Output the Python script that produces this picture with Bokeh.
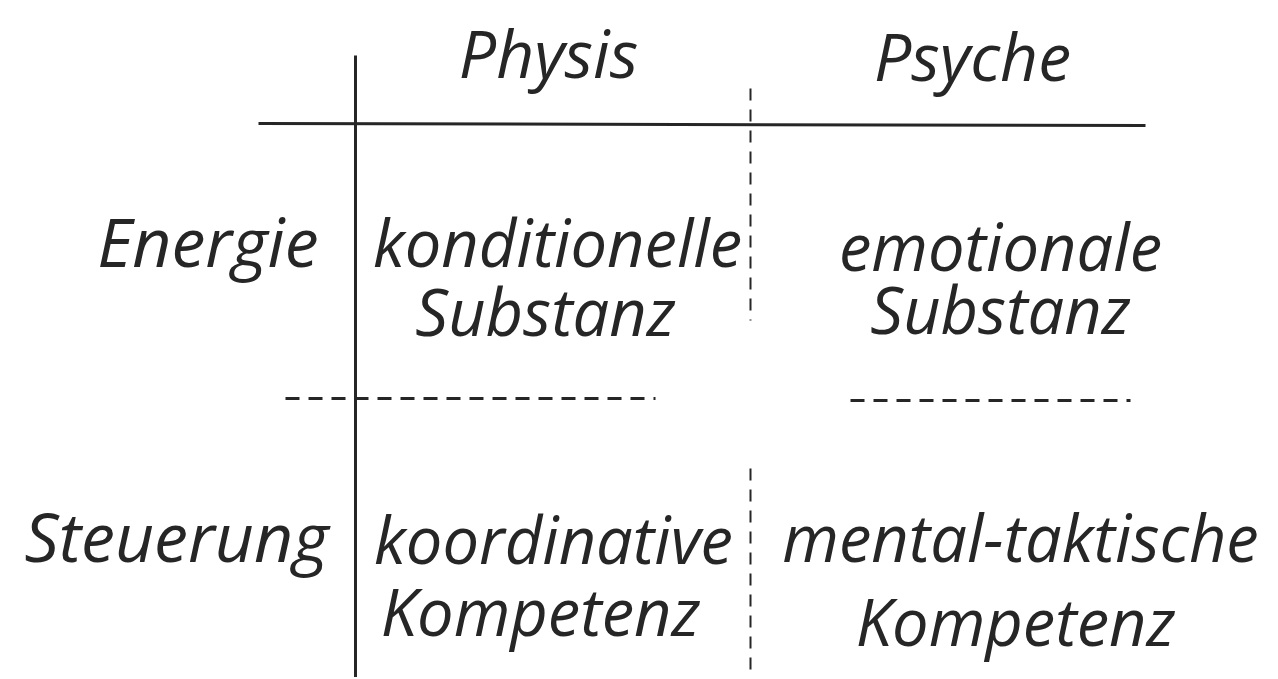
from bokeh.plotting import figure
from bokeh.models import Range1d, ColumnDataSource
from bokeh.core.properties import value
from bokeh.embed import file_html
from bokeh.resources import INLINE

# ---- content ----
col_headers = ["Physis", "Psyche"]
row_headers = ["Energie", "Steuerung"]
cell_line1 = ["konditionelle", "emotionale", "koordinative", "mental-taktische"]
cell_line2 = ["Substanz", "Substanz", "Kompetenz", "Kompetenz"]

# ---- layout (pixel-like coordinates, y downwards; y values are text baselines) ----
col_hdr_x = [548, 972]
col_hdr_base = [79, 82]
row_hdr_x = [318, 328]
row_hdr_base = [268, 563]
cell_x1 = [557, 1000, 553, 1020]
cell_base1 = [268, 272, 565, 563]
cell_x2 = [545, 1000, 540, 1015]
cell_base2 = [337, 335, 637, 647]

HDR_SIZE, ROW_SIZE, CELL_SIZE = 66, 68, 65
BASE_SHIFT = 0.41  # svg baseline compensation (fraction of font size)


def shift(bases, size):
    return [b - BASE_SHIFT * size for b in bases]


FONT = value("Open Sans")
INK = "#262626"

W, H = 1276, 677
p = figure(width=W, height=H, x_range=Range1d(0, W), y_range=Range1d(H, 0),
           output_backend="svg", toolbar_location=None, min_border=0,
           outline_line_color=None, background_fill_color="white")
p.axis.visible = False
p.grid.visible = False

# solid lines
p.segment(x0=[355, 258], y0=[55, 123], x1=[355, 1145], y1=[H, 125],
          line_color=INK, line_width=3)
# dashed vertical
p.segment(x0=[750, 750], y0=[88, 468], x1=[750, 750], y1=[320, H],
          line_color=INK, line_width=2, line_dash="12 9")
# dashed horizontal
p.segment(x0=[285, 850], y0=[398, 400], x1=[655, 1130], y1=[398, 400],
          line_color=INK, line_width=3, line_dash="14 9")

src_c = ColumnDataSource(dict(x=col_hdr_x, y=shift(col_hdr_base, HDR_SIZE), t=col_headers))
p.text(x="x", y="y", text="t", source=src_c, text_font=FONT, text_font_style="italic",
       text_font_size=f"{HDR_SIZE}px", text_align="center", text_baseline="alphabetic",
       text_color=INK)

src_r = ColumnDataSource(dict(x=row_hdr_x, y=shift(row_hdr_base, ROW_SIZE), t=row_headers))
p.text(x="x", y="y", text="t", source=src_r, text_font=FONT, text_font_style="italic",
       text_font_size=f"{ROW_SIZE}px", text_align="right", text_baseline="alphabetic",
       text_color=INK)

src_1 = ColumnDataSource(dict(x=cell_x1, y=shift(cell_base1, CELL_SIZE), t=cell_line1))
p.text(x="x", y="y", text="t", source=src_1, text_font=FONT, text_font_style="italic",
       text_font_size=f"{CELL_SIZE}px", text_align="center", text_baseline="alphabetic",
       text_color=INK)

src_2 = ColumnDataSource(dict(x=cell_x2, y=shift(cell_base2, CELL_SIZE), t=cell_line2))
p.text(x="x", y="y", text="t", source=src_2, text_font=FONT, text_font_style="italic",
       text_font_size=f"{CELL_SIZE}px", text_align="center", text_baseline="alphabetic",
       text_color=INK)

open("out.html", "w").write(file_html(p, INLINE))
